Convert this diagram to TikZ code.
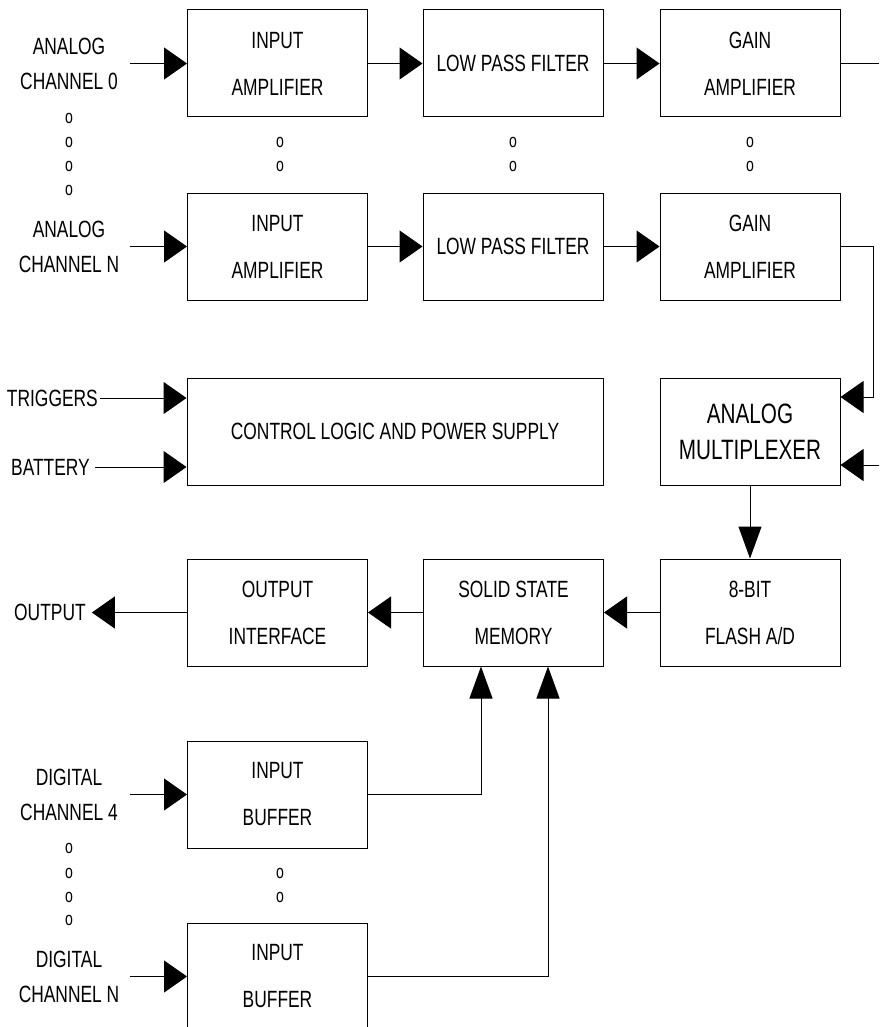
\documentclass[tikz,border=0pt]{standalone}
\usepackage{fontspec}
\setmainfont{Liberation Sans}[FakeStretch=0.74]
\usetikzlibrary{arrows.meta}

\begin{document}
\begin{tikzpicture}[x=1pt,y=-1pt,
    blk/.style={draw,line width=1pt,minimum width=180pt,minimum height=107pt,
      align=center,inner sep=0pt,font=\fontsize{23.5}{47}\selectfont},
    lbl/.style={align=center,inner sep=0pt,font=\fontsize{23.5}{35}\selectfont},
    dot/.style={inner sep=0pt,font=\fontsize{19}{24}\selectfont},
    harr/.style={line width=1pt,-{Triangle[length=23pt,width=32pt]}},
    varr/.style={line width=1pt,-{Triangle[length=32pt,width=23pt]}},
    wire/.style={line width=1pt}]
  \useasboundingbox (0,0) rectangle (879,1027);

  % analog channels
  \node[blk] (amp0) at (277.5,63.5) {INPUT\\AMPLIFIER};
  \node[blk] (lpf0) at (513,63.5) {LOW PASS FILTER};
  \node[blk] (gain0) at (750,63.5) {GAIN\\AMPLIFIER};
  \node[blk] (amp1) at (277.5,246.5) {INPUT\\AMPLIFIER};
  \node[blk] (lpf1) at (513,246.5) {LOW PASS FILTER};
  \node[blk] (gain1) at (750,246.5) {GAIN\\AMPLIFIER};

  \node[lbl] (ain0) at (69,63.5) {ANALOG\\CHANNEL 0};
  \node[lbl] (ain1) at (69,246.5) {ANALOG\\CHANNEL N};
  \foreach \y in {118,142,166,190} \node[dot] (ad\y) at (69,\y) {o};
  \foreach \x in {280,513,750} \foreach \y in {142,166}
    \node[dot] (md\x\y) at (\x,\y) {o};

  % control and conversion
  \node[blk,minimum width=416pt] (ctrl) at (395,431.5)
    {CONTROL LOGIC AND POWER SUPPLY};
  \node[blk,font=\fontsize{28}{36}\selectfont] (mux) at (750,431.5)
    {ANALOG\\MULTIPLEXER};
  \node[lbl,anchor=east] (trig) at (98,398) {TRIGGERS};
  \node[lbl,anchor=east] (batt) at (90,467) {BATTERY};
  \coordinate (extin) at (879,465);

  \node[blk] (adc) at (750,612.5) {8-BIT\\FLASH A/D};
  \node[blk] (mem) at (513.5,612.5) {SOLID STATE\\MEMORY};
  \node[blk] (outif) at (277.5,612.5) {OUTPUT\\INTERFACE};
  \node[lbl,anchor=west] (outp) at (14,612.5) {OUTPUT};
  \coordinate (gout) at (879,63.5);

  % digital channels
  \node[blk] (buf0) at (277.5,794.5) {INPUT\\BUFFER};
  \node[blk] (buf1) at (277.5,976.5) {INPUT\\BUFFER};
  \node[lbl] (din0) at (69,794.5) {DIGITAL\\CHANNEL 4};
  \node[lbl] (din1) at (69,976.5) {DIGITAL\\CHANNEL N};
  \foreach \y in {848,873,897,920} \node[dot] (dd\y) at (69,\y) {o};
  \foreach \y in {873,897} \node[dot] (bd\y) at (280,\y) {o};

  % connections
  \foreach \n in {amp0,amp1,buf0,buf1}
    \draw[harr] (\n.west) ++(-57,0) -- (\n.west);
  \draw[harr] (amp0.east) -- (lpf0.west);
  \draw[harr] (lpf0.east) -- (gain0.west);
  \draw[harr] (amp1.east) -- (lpf1.west);
  \draw[harr] (lpf1.east) -- (gain1.west);
  \draw[wire] (gain0.east) -- (gout);
  \draw[harr] (gain1.east) -- ++(33,0) |- ([yshift=34.5pt]mux.east);
  \draw[harr] (extin) -- ([yshift=-33.5pt]mux.east);
  \draw[harr] ([xshift=2pt]trig.east) -- ([yshift=33.5pt]ctrl.west);
  \draw[harr] ([xshift=5pt]batt.east) -- ([yshift=-35.5pt]ctrl.west);
  \draw[varr] (mux.south) -- (adc.north);
  \draw[harr] (adc.west) -- (mem.east);
  \draw[harr] (mem.west) -- (outif.east);
  \draw[harr] (outif.west) -- ([xshift=6pt]outp.east);
  \draw[varr] (buf0.east) -| ([xshift=-32.5pt]mem.south);
  \draw[varr] (buf1.east) -| ([xshift=34.5pt]mem.south);
\end{tikzpicture}
\end{document}
